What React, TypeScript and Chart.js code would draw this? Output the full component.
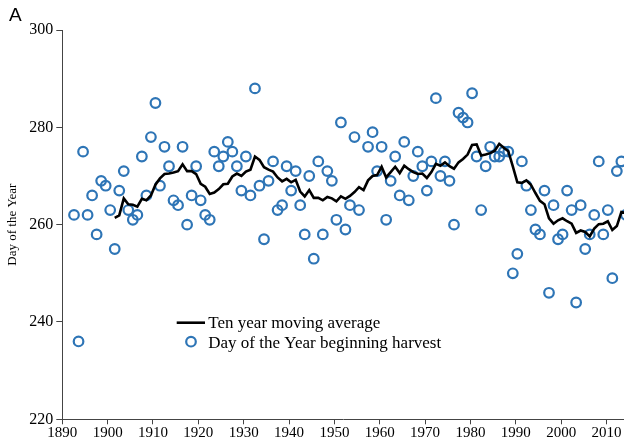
import React, { useEffect, useRef } from "react";
import { Chart, registerables } from "chart.js";

Chart.register(...registerables);

// ---- data ----
const harvestYears = [
  1892, 1893, 1894, 1895, 1896, 1897, 1898, 1899,
  1900, 1901, 1902, 1903, 1904, 1905, 1906, 1907, 1908, 1909,
  1910, 1911, 1912, 1913, 1914, 1915, 1916, 1917, 1918, 1919,
  1920, 1921, 1922, 1923, 1924, 1925, 1926, 1927, 1928, 1929,
  1930, 1931, 1932, 1933, 1934, 1935, 1936, 1937, 1938, 1939,
  1940, 1941, 1942, 1943, 1944, 1945, 1946, 1947, 1948, 1949,
  1950, 1951, 1952, 1953, 1954, 1955, 1957, 1958, 1959,
  1960, 1961, 1962, 1963, 1964, 1965, 1966, 1967, 1968, 1969,
  1970, 1971, 1972, 1973, 1974, 1975, 1976, 1977, 1978, 1979,
  1980, 1981, 1982, 1983, 1984, 1985, 1986, 1987, 1988, 1989,
  1990, 1991, 1992, 1993, 1994, 1995, 1996, 1997, 1998, 1999,
  2000, 2001, 2002, 2003, 2004, 2005, 2006, 2007, 2008, 2009,
  2010, 2011, 2012, 2013, 2014,
];

const harvestDays = [
  262, 236, 275, 262, 266, 258, 269, 268,
  263, 255, 267, 271, 263, 261, 262, 274, 266, 278,
  285, 268, 276, 272, 265, 264, 276, 260, 266, 272,
  265, 262, 261, 275, 272, 274, 277, 275, 272, 267,
  274, 266, 288, 268, 257, 269, 273, 263, 264, 272,
  267, 271, 264, 258, 270, 253, 273, 258, 271, 269,
  261, 281, 259, 264, 278, 263, 276, 279, 271,
  276, 261, 269, 274, 266, 277, 265, 270, 275, 272,
  267, 273, 286, 270, 273, 269, 260, 283, 282, 281,
  287, 274, 263, 272, 276, 274, 274, 275, 275, 250,
  254, 273, 268, 263, 259, 258, 267, 246, 264, 257,
  258, 267, 263, 244, 264, 255, 258, 262, 273, 258,
  263, 249, 271, 273, 262,
];

const maYears = [
  1901, 1902, 1903, 1904, 1905, 1906, 1907, 1908, 1909,
  1910, 1911, 1912, 1913, 1914, 1915, 1916, 1917, 1918, 1919,
  1920, 1921, 1922, 1923, 1924, 1925, 1926, 1927, 1928, 1929,
  1930, 1931, 1932, 1933, 1934, 1935, 1936, 1937, 1938, 1939,
  1940, 1941, 1942, 1943, 1944, 1945, 1946, 1947, 1948, 1949,
  1950, 1951, 1952, 1953, 1954, 1955, 1956, 1957, 1958, 1959,
  1960, 1961, 1962, 1963, 1964, 1965, 1966, 1967, 1968, 1969,
  1970, 1971, 1972, 1973, 1974, 1975, 1976, 1977, 1978, 1979,
  1980, 1981, 1982, 1983, 1984, 1985, 1986, 1987, 1988, 1989,
  1990, 1991, 1992, 1993, 1994, 1995, 1996, 1997, 1998, 1999,
  2000, 2001, 2002, 2003, 2004, 2005, 2006, 2007, 2008, 2009,
  2010, 2011, 2012, 2013, 2014,
];

const maDays = [
  261.4, 261.9, 265.4, 264.2, 264.1, 263.7, 265.3, 265.0, 266.0,
  268.2, 269.5, 270.4, 270.5, 270.7, 271.0, 272.4, 271.0, 271.0, 270.4,
  268.4, 267.8, 266.3, 266.6, 267.3, 268.3, 268.4, 269.9, 270.5, 270.0,
  270.9, 271.3, 274.0, 273.3, 271.8, 271.3, 270.9, 269.7, 268.9, 269.4,
  268.7, 269.2, 266.8, 265.8, 267.1, 265.5, 265.5, 265.0, 265.7, 265.4,
  264.8, 265.8, 265.3, 265.9, 266.7, 267.7, 267.1, 269.1, 270.0, 270.2,
  271.9, 269.7, 270.8, 271.9, 270.6, 272.1, 271.4, 270.8, 270.4, 270.5,
  269.6, 270.8, 272.5, 272.1, 272.8, 272.0, 271.5, 272.8, 273.5, 274.4,
  276.4, 276.5, 274.2, 274.4, 274.7, 275.2, 276.6, 275.8, 275.1, 272.0,
  268.7, 268.6, 269.1, 268.2, 266.5, 264.9, 264.2, 261.3, 260.2, 260.9,
  261.3, 260.7, 260.2, 258.3, 258.8, 258.5, 257.6, 259.2, 260.1, 260.2,
  260.7, 258.9, 259.7, 262.6, 262.4,
];

const xTickValues = [1890, 1900, 1910, 1920, 1930, 1940, 1950, 1960, 1970, 1980, 1990, 2000, 2010];
const yTickValues = [220, 240, 260, 280, 300];
const legendLabels = ["Ten year moving average", "Day of the Year beginning harvest"];
const yAxisTitle = "Day of the Year";
const panelLabel = "A";

// ---- styles ----
const BLUE = "#2E75B6";
const AXIS = "#444444";
const SERIF = "'Liberation Serif', 'Times New Roman', serif";
const SANS = "'Liberation Sans', Arial, sans-serif";

const overlayPlugin = {
  id: "overlay",
  afterDraw(chart: any) {
    const ctx = chart.ctx as CanvasRenderingContext2D;
    ctx.save();
    ctx.fillStyle = "#000";
    ctx.textAlign = "left";
    ctx.textBaseline = "alphabetic";
    ctx.font = `19px ${SANS}`;
    ctx.fillText(panelLabel, 9, 20.8);

    ctx.font = `17px ${SERIF}`;
    ctx.strokeStyle = "#000";
    ctx.lineWidth = 2.6;
    ctx.beginPath();
    ctx.moveTo(176.7, 322.7);
    ctx.lineTo(205, 322.7);
    ctx.stroke();
    ctx.fillText(legendLabels[0], 208.3, 328.3);

    ctx.strokeStyle = BLUE;
    ctx.lineWidth = 2.2;
    ctx.beginPath();
    ctx.arc(191, 341.7, 4.8, 0, Math.PI * 2);
    ctx.stroke();
    ctx.fillText(legendLabels[1], 208.3, 347.7);
    ctx.restore();
  },
};

export default function App() {
  const ref = useRef<HTMLCanvasElement>(null);

  useEffect(() => {
    if (!ref.current) return;
    const chart = new Chart(ref.current, {
      type: "scatter",
      data: {
        datasets: [
          {
            type: "line",
            label: legendLabels[0],
            data: maYears.map((x, i) => ({ x, y: maDays[i] })),
            borderColor: "#000",
            borderWidth: 2.6,
            pointRadius: 0,
            fill: false,
            tension: 0,
            xAxisID: "xd",
            yAxisID: "y",
          } as any,
          {
            type: "scatter",
            label: legendLabels[1],
            data: harvestYears.map((x, i) => ({ x, y: harvestDays[i] })),
            showLine: false,
            pointRadius: 4.8,
            pointBorderWidth: 2.2,
            borderWidth: 2.2,
            borderColor: BLUE,
            pointBorderColor: BLUE,
            backgroundColor: "rgba(0,0,0,0)",
            pointBackgroundColor: "rgba(0,0,0,0)",
            xAxisID: "xd",
            yAxisID: "y",
          } as any,
        ],
      },
      options: {
        animation: false,
        responsive: false,
        layout: { autoPadding: false, padding: { top: 30, left: 0, right: 0, bottom: 0 } },
        plugins: {
          legend: { display: false },
          tooltip: { enabled: false },
        },
        scales: {
          x: {
            type: "linear",
            position: "bottom",
            min: 1890,
            max: 2013.86,
            afterBuildTicks: (s: any) => {
              s.ticks = xTickValues.map((v) => ({ value: v }));
            },
            afterFit: (s: any) => {
              s.height = 26.7;
              s.paddingLeft = 0;
              s.paddingRight = 0;
            },
            ticks: {
              callback: (v: any) => String(v),
              font: { family: SERIF, size: 15 },
              color: "#000",
              padding: 0,
              maxRotation: 0,
              autoSkip: false,
            },
            grid: { drawOnChartArea: false, tickLength: 5, color: AXIS },
            border: { color: AXIS, width: 1 },
          },
          xd: {
            type: "linear",
            display: false,
            min: 1889.41,
            max: 2013.58,
          },
          y: {
            type: "linear",
            position: "left",
            min: 220,
            max: 300,
            afterBuildTicks: (s: any) => {
              s.ticks = yTickValues.map((v) => ({ value: v }));
            },
            afterFit: (s: any) => {
              s.width = 62.3;
            },
            ticks: {
              callback: (v: any) => String(v),
              font: { family: SERIF, size: 16 },
              color: "#000",
              padding: 3,
            },
            grid: { drawOnChartArea: false, tickLength: 6, color: AXIS },
            border: { color: AXIS, width: 1 },
            title: {
              display: true,
              text: yAxisTitle,
              font: { family: SERIF, size: 13 },
              color: "#000",
              padding: { top: 4.9, bottom: 0 },
            },
          },
        } as any,
      },
      plugins: [overlayPlugin],
    });
    return () => chart.destroy();
  }, []);

  return (
    <div
      style={{
        position: "fixed",
        left: 0,
        top: 0,
        width: 624,
        height: 446,
        background: "#fff",
      }}
    >
      <canvas ref={ref} width={624} height={446} style={{ display: "block" }} />
    </div>
  );
}
